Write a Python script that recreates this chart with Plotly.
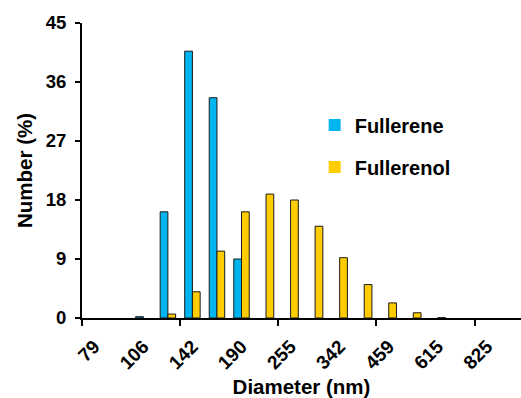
import plotly.graph_objects as go

# Size bins (nm) of the DLS number distribution
diameters = [79, 91, 106, 122, 142, 164, 190, 220, 255, 295,
             342, 396, 459, 531, 615, 712, 825, 955]
# Number distribution (%) per bin
fullerene = [0, 0, 0.2, 16.2, 40.7, 33.6, 9.0, 0, 0, 0,
             0, 0, 0, 0, 0, 0, 0, 0]
fullerenol = [0, 0, 0, 0.6, 4.0, 10.2, 16.2, 18.9, 18.0, 14.0,
              9.2, 5.1, 2.3, 0.8, 0.05, 0, 0, 0]
y_ticks = [0, 9, 18, 27, 36, 45]

idx = list(range(len(diameters)))
label_idx = idx[::2]
label_text = [str(diameters[i]) for i in label_idx]

FONT = "Liberation Sans, Arial, sans-serif"


def outline(values):
    # empty bins get no outline so nothing is drawn for them
    return [1 if v > 0 else 0 for v in values]


fig = go.Figure()
fig.add_trace(go.Bar(
    x=idx, y=fullerene, name="Fullerene", legendgroup="a",
    marker=dict(color="#00B4F0",
                line=dict(color="#1a1a1a", width=outline(fullerene))),
))
fig.add_trace(go.Bar(
    x=idx, y=fullerenol, name="Fullerenol", legendgroup="b",
    marker=dict(color="#FFCC00",
                line=dict(color="#1a1a1a", width=outline(fullerenol))),
))

fig.update_layout(
    width=521, height=398,
    margin=dict(l=82, r=0, t=23, b=80),
    paper_bgcolor="white", plot_bgcolor="white",
    barmode="group", bargap=0.37, bargroupgap=0,
    font=dict(family=FONT, color="black"),
    showlegend=True,
    legend=dict(
        x=0.53, y=0.72, xanchor="left", yanchor="top",
        font=dict(family=FONT, size=20, color="black", weight="bold"),
        bgcolor="rgba(0,0,0,0)", tracegroupgap=13,
    ),
    xaxis=dict(
        range=[-0.5, 17.39],
        tickmode="array", tickvals=label_idx, ticktext=label_text,
        tickangle=-45, ticks="", ticklabelstandoff=8,
        tickfont=dict(family=FONT, size=19, color="black", weight="bold"),
        showline=True, linecolor="black", linewidth=2,
        showgrid=False, zeroline=False,
        # tick marks on bin boundaries, every fourth bin
        minor=dict(tick0=-0.5, dtick=4,
                   ticks="outside", ticklen=6, tickwidth=2,
                   tickcolor="black", showgrid=False),
        title=dict(text="Diameter (nm)", standoff=13,
                   font=dict(family=FONT, size=20.5, color="black",
                             weight="bold")),
        automargin=False,
    ),
    yaxis=dict(
        range=[0, 45],
        tickmode="array", tickvals=y_ticks,
        ticks="outside", ticklen=5, tickwidth=2, tickcolor="black",
        ticklabelstandoff=5,
        tickfont=dict(family=FONT, size=18.5, color="black", weight="bold"),
        showline=True, linecolor="black", linewidth=2,
        showgrid=False, zeroline=False,
        title=dict(text="Number (%)", standoff=8,
                   font=dict(family=FONT, size=20.5, color="black",
                             weight="bold")),
        automargin=False,
    ),
)

fig.write_html("out.html")
